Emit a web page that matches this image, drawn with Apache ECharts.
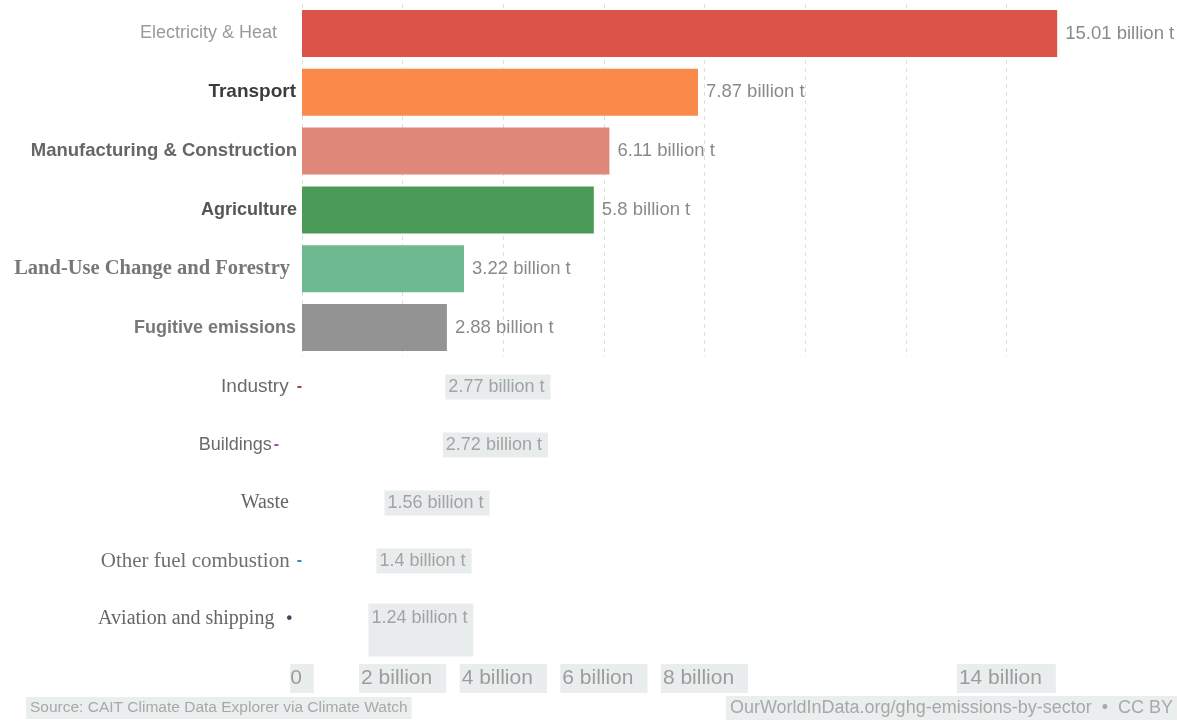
<!DOCTYPE html>
<html>
<head>
<meta charset="utf-8">
<title>Greenhouse gas emissions by sector</title>
<script src="https://cdn.jsdelivr.net/npm/echarts@6/dist/echarts.min.js"></script>
<style>
  html, body { margin: 0; padding: 0; background: #ffffff; }
  #chart { width: 1179px; height: 727px; }
</style>
</head>
<body>
<div id="chart"></div>
<script>
// Sectors, in drawing order (largest first)
const sectors = [
  'Electricity & Heat',
  'Transport',
  'Manufacturing & Construction',
  'Agriculture',
  'Land-Use Change and Forestry',
  'Fugitive emissions',
  'Industry',
  'Buildings',
  'Waste',
  'Other fuel combustion',
  'Aviation and shipping'
];

// Annual emissions, billion tonnes CO2-equivalent
const emissions = [15.01, 7.87, 6.11, 5.8, 3.22, 2.88, 2.77, 2.72, 1.56, 1.4, 1.24];

// Axis ticks that carry a label
const labelledTicks = [0, 2, 4, 6, 8, 14];

// The first six sectors are drawn as coloured bars, the rest as labels only
const TOP_COUNT = 6;

const barColors = ['#dc5448', '#f98a4a', '#df887a', '#4a9b57', '#6fb991', '#939393'];

const SANS = '"Liberation Sans", Arial, sans-serif';
const SERIF = '"Liberation Serif", "Times New Roman", serif';

// Per-sector label styling
const nameStyles = [
  { fontFamily: SANS, fontSize: 18, fontWeight: 'normal', color: '#9a9a9a', padding: [0, 20, 0, 0] },
  { fontFamily: SANS, fontSize: 19, fontWeight: 'bold', color: '#3c3c3c', padding: [0, 1, 0, 0] },
  { fontFamily: SANS, fontSize: 18.5, fontWeight: 'bold', color: '#666666', padding: [0, 0, 0, 0] },
  { fontFamily: SANS, fontSize: 18, fontWeight: 'bold', color: '#555555', padding: [0, 0, 0, 0] },
  { fontFamily: SERIF, fontSize: 20.5, fontWeight: 'bold', color: '#777777', padding: [0, 7, 0, 0] },
  { fontFamily: SANS, fontSize: 18, fontWeight: 'bold', color: '#777777', padding: [0, 1, 0, 0] },
  { fontFamily: SANS, fontSize: 19, fontWeight: 'normal', color: '#6a6a6a', padding: [0, 0, 0, 0] },
  { fontFamily: SANS, fontSize: 18, fontWeight: 'normal', color: '#6a6a6a', padding: [0, 0, 0, 0] },
  { fontFamily: SERIF, fontSize: 20, fontWeight: 'normal', color: '#666666', padding: [0, 13, 0, 0] },
  { fontFamily: SERIF, fontSize: 21, fontWeight: 'normal', color: '#707070', padding: [0, 0, 0, 0] },
  { fontFamily: SERIF, fontSize: 20, fontWeight: 'normal', color: '#666666', padding: [0, 0, 0, 0] }
];

// Small marker drawn after some of the lower sector names
const markerStyles = {
  6: { text: '-', color: '#b03a3a', padding: [0, 0, 0, 8] },
  7: { text: '-', color: '#a050a8', padding: [0, 23, 0, 2] },
  9: { text: '-', color: '#2f8fb0', padding: [0, 0, 0, 7] },
  10: { text: '•', color: '#3a4a5a', padding: [0, 10, 0, 12] }
};

const rich = {};
nameStyles.forEach((s, i) => {
  rich['n' + i] = Object.assign({}, s);
  if (markerStyles[i]) {
    rich['m' + i] = {
      fontFamily: SANS, fontSize: 16, fontWeight: 'bold',
      color: markerStyles[i].color, padding: markerStyles[i].padding
    };
  }
});

function categoryLabel(name) {
  const i = sectors.indexOf(name);
  let s = '{n' + i + '|' + name + '}';
  if (markerStyles[i]) s += '{m' + i + '|' + markerStyles[i].text + '}';
  return s;
}

const topNames = sectors.slice(0, TOP_COUNT);
const bottomNames = sectors.slice(TOP_COUNT);

const topData = emissions.slice(0, TOP_COUNT).map((v, i) => ({
  value: v,
  itemStyle: { color: barColors[i] }
}));

// Lower sectors: value tags only; the last tag has a taller box
const bottomData = emissions.slice(TOP_COUNT).map((v, i, arr) => (
  i === arr.length - 1
    ? { value: v, label: { formatter: '{c} billion t\n ', lineHeight: 23, offset: [0, 11] } }
    : { value: v }
));

const xMax = 16;
const gridLeft = 302;
const gridRight = 72;

// Dashed gridlines for every tick except the last one at the right edge
const gridLineColors = [];
for (let v = 0; v <= xMax; v += 2) gridLineColors.push(v < xMax ? '#dedede' : 'rgba(0,0,0,0)');

const chart = echarts.init(document.getElementById('chart'), null, { renderer: 'canvas' });

chart.setOption({
  backgroundColor: '#ffffff',
  animation: false,
  grid: [
    { left: gridLeft, right: gridRight, top: 4, height: 353 },
    { left: gridLeft, right: gridRight, top: 358, height: 290 }
  ],
  xAxis: [
    {
      gridIndex: 0, type: 'value', min: 0, max: xMax, interval: 2,
      axisLine: { show: false }, axisTick: { show: false }, axisLabel: { show: false },
      splitLine: { show: true, lineStyle: { color: gridLineColors, type: [4, 4], width: 1 } }
    },
    {
      gridIndex: 1, type: 'value', min: 0, max: xMax, interval: 2,
      axisLine: { show: false }, axisTick: { show: false },
      splitLine: { show: false },
      axisLabel: {
        show: true,
        margin: 16,
        showMaxLabel: false,
        formatter: v => {
          if (labelledTicks.indexOf(v) < 0) return '';
          return v === 0 ? '{z|0}' : '{b|' + v + ' billion}';
        },
        rich: {
          z: {
            fontFamily: SANS, fontSize: 21, color: '#9c9c9c',
            backgroundColor: '#e9eded', padding: [4, 12, 4, 0]
          },
          b: {
            fontFamily: SANS, fontSize: 21, color: '#9c9c9c',
            backgroundColor: '#e9eded', padding: [4, 14, 4, 2]
          }
        }
      }
    }
  ],
  yAxis: [
    {
      gridIndex: 0, type: 'category', inverse: true, data: topNames,
      axisLine: { show: false }, axisTick: { show: false },
      axisLabel: { margin: 5, formatter: categoryLabel, rich: rich }
    },
    {
      gridIndex: 1, type: 'category', inverse: true, data: bottomNames,
      axisLine: { show: false }, axisTick: { show: false },
      axisLabel: { margin: 0, formatter: categoryLabel, rich: rich }
    }
  ],
  series: [
    {
      type: 'bar', xAxisIndex: 0, yAxisIndex: 0,
      data: topData,
      barWidth: 47,
      label: {
        show: true, position: 'right', distance: 8,
        fontFamily: SANS, fontSize: 18.5, color: '#8a8a8a',
        formatter: p => p.value + ' billion t'
      }
    },
    {
      type: 'bar', xAxisIndex: 1, yAxisIndex: 1,
      data: bottomData,
      barWidth: 40,
      itemStyle: { color: 'rgba(0,0,0,0)' },
      label: {
        show: true, position: 'right', distance: 4,
        fontFamily: SANS, fontSize: 18, color: '#a3a3a3',
        backgroundColor: '#e8eced',
        padding: [4, 6, 3, 3],
        formatter: '{c} billion t'
      }
    }
  ],
  graphic: [
    {
      type: 'text', left: 26, top: 697,
      style: {
        text: 'Source: CAIT Climate Data Explorer via Climate Watch',
        font: '15.5px ' + SANS, fill: '#a8a8a8',
        backgroundColor: '#eaeeee', padding: [3, 4]
      }
    },
    {
      type: 'text', right: 2, top: 696,
      style: {
        text: 'OurWorldInData.org/ghg-emissions-by-sector  •  CC BY',
        font: '18px ' + SANS, fill: '#a8a8a8',
        backgroundColor: '#eaeeee', padding: [3, 4]
      }
    }
  ]
});
</script>
</body>
</html>
